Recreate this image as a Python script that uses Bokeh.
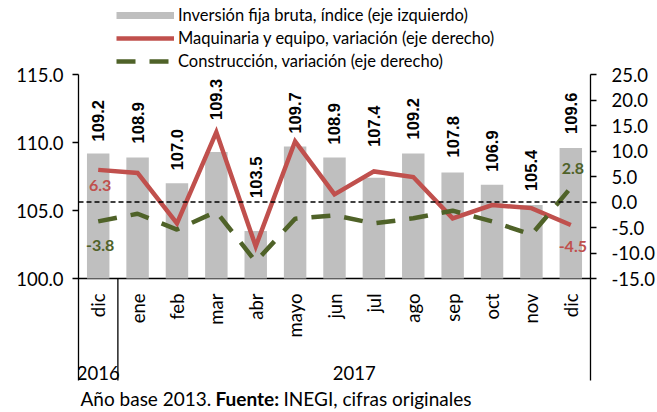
import numpy as np
from bokeh.plotting import figure
from bokeh.models import (Range1d, LinearAxis, FixedTicker, PrintfTickFormatter, Span,
                          Label, LabelSet, Legend, LegendItem, ColumnDataSource)
from bokeh.core.properties import value
from bokeh.embed import file_html
from bokeh.resources import INLINE

# ---------------- data ----------------
months = ["dic", "ene", "feb", "mar", "abr", "mayo", "jun", "jul", "ago", "sep", "oct", "nov", "dic"]
years = ["2016", "2017"]
months_per_year = [1, 12]
inversion = [109.2, 108.9, 107.0, 109.3, 103.5, 109.7, 108.9, 107.4, 109.2, 107.8, 106.9, 105.4, 109.6]
maquinaria = [6.3, 5.7, -4.2, 13.7, -8.7, 11.9, 1.5, 6.0, 4.9, -3.2, -0.6, -1.2, -4.5]
construccion = [-3.8, -2.3, -5.4, -1.9, -11.7, -3.3, -2.6, -4.2, -3.2, -1.7, -3.8, -6.4, 2.8]
left_ticks = [100, 105, 110, 115]
right_ticks = [-15, -10, -5, 0, 5, 10, 15, 20, 25]
legend_labels = ["Inversión fija bruta, índice (eje izquierdo)",
                 "Maquinaria y equipo, variación (eje derecho)",
                 "Construcción, variación (eje derecho)"]
footnote = ["Año base 2013.", "Fuente:", "INEGI, cifras originales"]

# style: pixel gap between bar top and its value label
label_lift = [12, 14, 13, 32, 33, 13, 13, 31, 14, 15, 13, 14, 14]

FONT = "Lato"
GREY = "#BFBFBF"
RED = "#C0504D"
GREEN = "#4F6228"
BLACK = "#000000"

# ---------------- layout (pixels) ----------------
W, H = 657, 412
LEFT, RIGHT = 78, 590          # plot area left/right
TOP, BOTTOM = 74, 278          # value-axis extent (top/bottom)
SEP = 102                      # separators below the category axis

l_lo, l_hi = left_ticks[0], left_ticks[-1]
r_lo, r_hi = right_ticks[0], right_ticks[-1]
l_pp = (BOTTOM - TOP) / (l_hi - l_lo)       # px per unit, left axis
r_pp = (BOTTOM - TOP) / (r_hi - r_lo)       # px per unit, right axis

def ly(px_below_axis):
    """left-axis data value that lies px_below_axis pixels under the category axis"""
    return l_lo - px_below_axis / l_pp

x = list(range(len(months)))
src = ColumnDataSource(dict(x=x, inv=inversion, maq=maquinaria, con=construccion,
                            lab=[f"{v:.1f}" for v in inversion], lift=label_lift))

p = figure(frame_width=RIGHT - LEFT, frame_height=H,
           min_border_left=LEFT, min_border_right=W - RIGHT, min_border_top=0, min_border_bottom=0,
           x_range=Range1d(-0.5, len(months) - 0.5),
           y_range=Range1d(l_lo - (H - BOTTOM) / l_pp, l_hi + TOP / l_pp),
           x_axis_location=None,
           output_backend="svg", toolbar_location=None)
p.outline_line_color = None
p.grid.visible = False
p.extra_y_ranges = {"right": Range1d(r_lo - (H - BOTTOM) / r_pp, r_hi + TOP / r_pp)}

# ---------------- value axes ----------------
def style_axis(ax, size="18.5px"):
    ax.axis_line_color = BLACK
    ax.axis_line_width = 1.3
    ax.major_tick_line_color = BLACK
    ax.major_tick_line_width = 1.3
    ax.minor_tick_line_color = None
    ax.major_tick_in = 0
    ax.major_tick_out = 6
    ax.major_label_text_font = FONT
    ax.major_label_text_font_size = size
    ax.major_label_text_color = BLACK

yl = p.yaxis[0]
yl.ticker = FixedTicker(ticks=left_ticks)
yl.formatter = PrintfTickFormatter(format="%.1f")
yl.bounds = (ly(SEP), l_hi)
style_axis(yl)
yl.major_label_standoff = 9

yr = LinearAxis(y_range_name="right", ticker=FixedTicker(ticks=right_ticks),
                formatter=PrintfTickFormatter(format="%.1f"))
yr.bounds = (r_lo - SEP / r_pp, r_hi)
style_axis(yr)
yr.major_label_standoff = 15
yr.major_label_text_align = "left"
p.add_layout(yr, "right")

# ---------------- category axis (drawn) ----------------
bounds = [-0.5]
centers = []
for n in months_per_year:
    centers.append(bounds[-1] + n / 2.0)
    bounds.append(bounds[-1] + n)

p.segment(x0=[bounds[0]], y0=[l_lo], x1=[bounds[-1]], y1=[l_lo], line_color=BLACK, line_width=1.3)
p.segment(x0=bounds[1:-1], y0=[l_lo] * (len(bounds) - 2), x1=bounds[1:-1],
          y1=[ly(SEP)] * (len(bounds) - 2), line_color=BLACK, line_width=1.3)
p.text(x=x, y=[ly(15)] * len(x), text=months, angle=np.pi / 2,
       text_align="right", text_baseline="middle", text_font=value(FONT),
       text_font_size="18.5px", text_color=BLACK)
p.text(x=centers, y=[ly(94)] * len(centers), text=years,
       text_align="center", text_baseline="middle", text_font=value(FONT),
       text_font_size="18.5px", text_color=BLACK)

# ---------------- glyphs ----------------
bars = p.vbar(x="x", top="inv", bottom=l_lo, width=0.57, source=src,
              fill_color=GREY, line_color=None)
p.add_layout(Span(location=0, dimension="width", y_range_name="right",
                  line_color=BLACK, line_width=1.3, line_dash="5 3"))
r_maq = p.line(x="x", y="maq", source=src, y_range_name="right",
               line_color=RED, line_width=4.5, line_join="miter")
r_con = p.line(x="x", y="con", source=src, y_range_name="right",
               line_color=GREEN, line_width=4.5, line_dash="19 14")
# legend swatch for the bars (a thin grey band, as in the original key); not drawn in the plot
leg_bar = p.line(x="x", y="inv", source=src, line_color=GREY, line_width=7, visible=False)

p.add_layout(LabelSet(x="x", y="inv", text="lab", source=src, angle=np.pi / 2,
                      y_offset="lift", text_align="left", text_baseline="middle",
                      text_font=value("Liberation Sans"), text_font_style="bold",
                      text_font_size="16.5px", text_color=BLACK))

def end_label(i, series, color, dy):
    p.add_layout(Label(x=x[i], y=series[i], y_range_name="right", text=f"{series[i]:.1f}",
                       x_offset=2, y_offset=dy, text_align="center", text_baseline="middle",
                       text_font=FONT, text_font_style="bold", text_font_size="16px",
                       text_color=color))

end_label(0, maquinaria, RED, -15.5)
end_label(0, construccion, GREEN, -24)
end_label(len(x) - 1, construccion, GREEN, 19)
end_label(len(x) - 1, maquinaria, RED, -22)

# ---------------- legend ----------------
legend = Legend(items=[LegendItem(label=legend_labels[0], renderers=[leg_bar]),
                       LegendItem(label=legend_labels[1], renderers=[r_maq]),
                       LegendItem(label=legend_labels[2], renderers=[r_con])],
                location=(38, H - 71), orientation="vertical",
                glyph_width=58, glyph_height=20, label_height=20, spacing=3,
                label_standoff=4, padding=0, margin=0,
                border_line_color=None, background_fill_alpha=0,
                inactive_fill_alpha=0,
                label_text_font=FONT, label_text_font_size="16.5px", label_text_color=BLACK)
p.add_layout(legend, "center")

# ---------------- footnote ----------------
fx = [2, 137, 205]
for part, dx in zip(footnote, fx):
    p.add_layout(Label(x=bounds[0], y=ly(120), text=part, x_offset=dx,
                       text_align="left", text_baseline="middle", text_font=FONT,
                       text_font_style="bold" if part.startswith("Fuente") else "normal",
                       text_font_size="19px", text_color=BLACK))

open("out.html", "w").write(file_html(p, INLINE))
